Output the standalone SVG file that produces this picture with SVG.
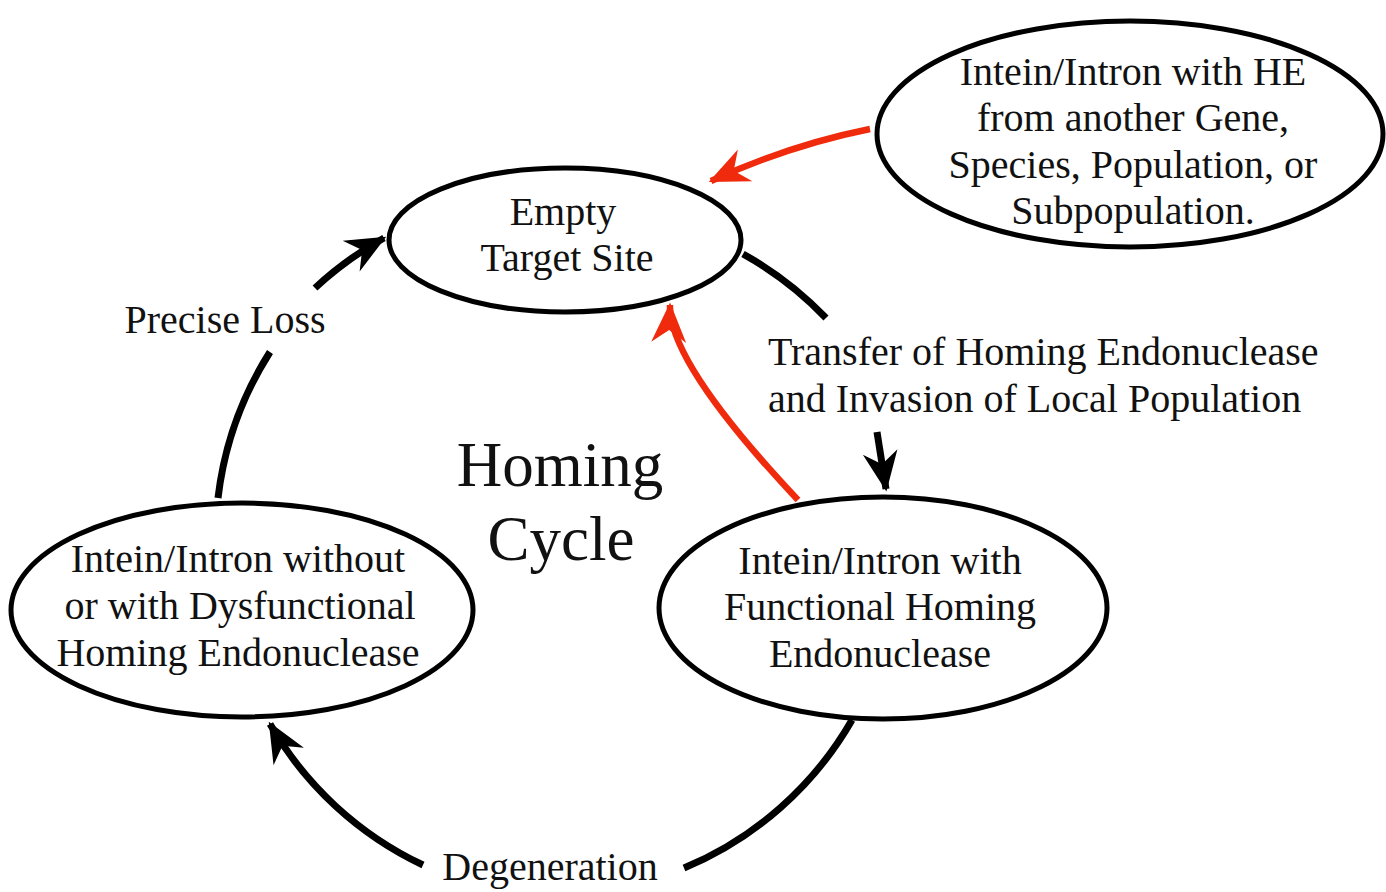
<svg xmlns="http://www.w3.org/2000/svg" width="1386" height="892" viewBox="0 0 1386 892">
<style>
.node ellipse{fill:#fff;stroke:#000;stroke-width:5}
text{font-family:"Liberation Serif","Times New Roman",serif;fill:#111;font-size:40px;text-anchor:middle}
.big{font-size:63px}
.left{text-anchor:start}
.blk{fill:none;stroke:#000;stroke-width:7}
.red{fill:none;stroke:#f02a0c;stroke-width:6.5}
</style>
<defs>
<marker id="ab" markerUnits="userSpaceOnUse" markerWidth="50" markerHeight="50" viewBox="-36 -20 40 40" refX="0" refY="0" orient="auto">
<path d="M2,0 L-30,-14 L-20,0 L-30,14 Z" fill="#000"/>
</marker>
<marker id="ar" markerUnits="userSpaceOnUse" markerWidth="50" markerHeight="50" viewBox="-36 -20 40 40" refX="0" refY="0" orient="auto">
<path d="M2,0 L-30,-14 L-20,0 L-30,14 Z" fill="#f02a0c"/>
</marker>
</defs>
<rect width="1386" height="892" fill="#fff"/>
<g id="connectors">
<path class="blk" d="M218,498 A348,348 0 0 1 270,352"/>
<path class="blk" d="M315,288 A348,348 0 0 1 384,238" marker-end="url(#ab)"/>
<path class="blk" d="M743,254 A348,348 0 0 1 826,318"/>
<path class="blk" d="M877,432 L886,489" marker-end="url(#ab)"/>
<path class="blk" d="M852,720 A348,348 0 0 1 684,868"/>
<path class="blk" d="M423,865 A348,348 0 0 1 270,724" marker-end="url(#ab)"/>
<path class="red" d="M870,129 Q790,145 711,181" marker-end="url(#ar)"/>
<path class="red" d="M798,500 Q668,362 670,305" marker-end="url(#ar)"/>
</g>
<g id="empty" class="node">
<ellipse cx="565" cy="240" rx="176" ry="72"/>
<text x="563" y="225">Empty</text>
<text x="567" y="271">Target Site</text>
</g>
<g id="he" class="node">
<ellipse cx="1130" cy="134" rx="253" ry="113"/>
<text x="1133" y="85">Intein/Intron with HE</text>
<text x="1133" y="131">from another Gene,</text>
<text x="1133" y="178">Species, Population, or</text>
<text x="1133" y="224">Subpopulation.</text>
</g>
<g id="without" class="node">
<ellipse cx="242" cy="610" rx="231" ry="107"/>
<text x="238" y="572">Intein/Intron without</text>
<text x="240" y="619">or with Dysfunctional</text>
<text x="238" y="666">Homing Endonuclease</text>
</g>
<g id="functional" class="node">
<ellipse cx="883" cy="608" rx="224" ry="111"/>
<text x="880" y="574">Intein/Intron with</text>
<text x="880" y="620">Functional Homing</text>
<text x="880" y="667">Endonuclease</text>
</g>
<g id="labels">
<text x="225" y="333">Precise Loss</text>
<text class="left" x="768" y="365">Transfer of Homing Endonuclease</text>
<text class="left" x="768" y="412">and Invasion of Local Population</text>
<text class="big" x="560" y="486">Homing</text>
<text class="big" x="561" y="560">Cycle</text>
<text x="550" y="880">Degeneration</text>
</g>
</svg>
